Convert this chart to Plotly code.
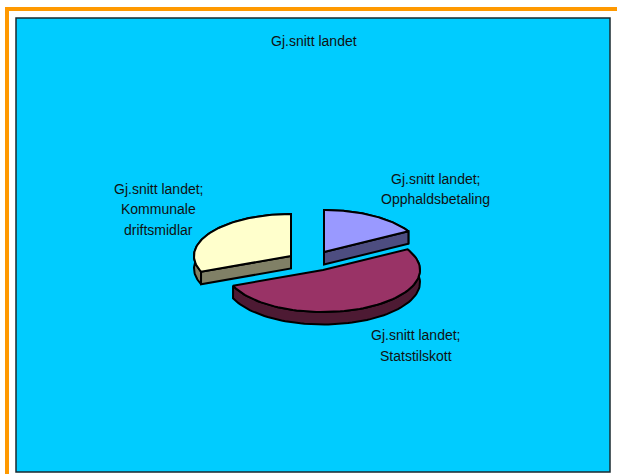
import numpy as np
import plotly.graph_objects as go

categories = ["Opphaldsbetaling", "Statstilskott", "Kommunale driftsmidlar"]
values = [16.8, 52.1, 31.1]
series_name = "Gj.snitt landet"
label_lines = [
    ["Gj.snitt landet;", "Opphaldsbetaling"],
    ["Gj.snitt landet;", "Statstilskott"],
    ["Gj.snitt landet;", "Kommunale", "driftsmidlar"],
]

top_colors = ["#9999FF", "#993366", "#FFFFCC"]
side_colors = ["#4D4D80", "#4D1A33", "#808066"]
centers = [(324, 252), (323, 270), (291, 256)]
label_pos = [(435.5, 178.5), (415.5, 335), (158.5, 188.5)]
LINE_STEP = 20.5
RX, RY, DEPTH = 97, 42, 12.5
W, H = 617, 474
FONT = "Liberation Sans, Arial, sans-serif"

fig = go.Figure()
total = sum(values)
angles = np.cumsum([0] + values) / total * 2 * np.pi


def poly(xs, ys, color):
    fig.add_trace(go.Scatter(
        x=xs, y=ys, mode="lines", fill="toself", fillcolor=color,
        line=dict(color="black", width=2), hoverinfo="skip", showlegend=False,
    ))


for i in range(len(values)):
    cx, cy = centers[i]
    t = np.linspace(angles[i], angles[i + 1], 80)
    ex = cx + RX * np.sin(t)
    ey = cy - RY * np.cos(t)
    poly(np.r_[ex, ex[::-1], ex[0]], np.r_[ey, ey[::-1] + DEPTH, ey[0]], side_colors[i])
    # cut faces: only those turned towards the viewer
    if np.sin(angles[i]) < 1e-6:
        poly([cx, ex[0], ex[0], cx, cx], [cy, ey[0], ey[0] + DEPTH, cy + DEPTH, cy], side_colors[i])
    if np.sin(angles[i + 1]) > -1e-6:
        poly([cx, ex[-1], ex[-1], cx, cx], [cy, ey[-1], ey[-1] + DEPTH, cy + DEPTH, cy], side_colors[i])
    poly(np.r_[cx, ex, cx], np.r_[cy, ey, cy], top_colors[i])

text_font = dict(family=FONT, size=14, color="#111111")
annotations = [dict(x=314, y=41, text=series_name, showarrow=False, xref="x", yref="y", font=text_font)]
for lines, (x, y) in zip(label_lines, label_pos):
    for n, line in enumerate(lines):
        annotations.append(dict(x=x, y=y + n * LINE_STEP, text=line, showarrow=False,
                                xref="x", yref="y", font=text_font))

shapes = [
    dict(type="line", xref="x", yref="y", x0=7, y0=474, x1=7, y1=9, line=dict(color="#FF9900", width=4), layer="below"),
    dict(type="line", xref="x", yref="y", x0=5, y0=9, x1=617, y1=9, line=dict(color="#FF9900", width=4), layer="below"),
    dict(type="rect", xref="x", yref="y", x0=16, y0=18, x1=610, y1=472,
         fillcolor="#00CCFF", line=dict(color="#1A2A30", width=1.5), layer="below"),
]

fig.update_layout(
    width=W, height=H, margin=dict(l=0, r=0, t=0, b=0),
    paper_bgcolor="white", plot_bgcolor="white", showlegend=False,
    xaxis=dict(range=[0, W], visible=False, fixedrange=True),
    yaxis=dict(range=[H, 0], visible=False, fixedrange=True),
    shapes=shapes, annotations=annotations,
)
fig.write_html(
    "out.html",
    config={"displayModeBar": False},
    post_script="document.body.style.margin='0';document.documentElement.style.overflow='hidden';",
)
